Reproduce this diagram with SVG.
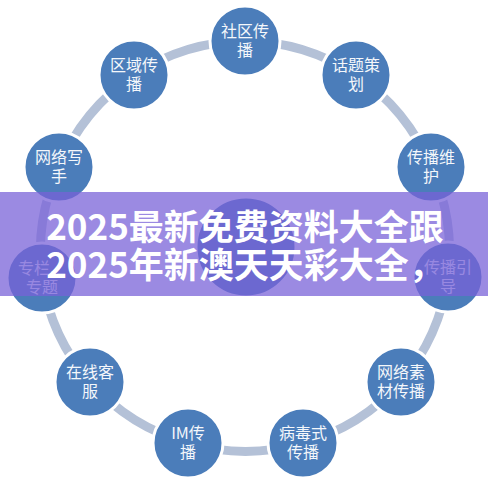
<svg xmlns="http://www.w3.org/2000/svg" width="488" height="489" viewBox="0 0 488 489">
<style>
.bg{fill:#ffffff}
.conn{fill:none;stroke:#b4c1d7;stroke-width:9}
.node circle{fill:#4b7dba;stroke:#ffffff;stroke-width:3}
.node text{font-family:"Noto Sans CJK SC","Noto Sans",sans-serif;font-size:16px;fill:#f4f7fb;text-anchor:middle}
.banner{fill:rgb(120,97,216);fill-opacity:0.74}
.title{font-family:"Noto Sans CJK SC","Noto Sans",sans-serif;font-size:35px;font-weight:700;fill:#ffffff;text-anchor:middle}
</style>
<rect class="bg" x="0" y="0" width="488" height="489"/>
<g id="connectors">
<path class="conn" d="M245,41 A205,205 0 0 1 356,75"/>
<path class="conn" d="M356,75 A205,205 0 0 1 431,167"/>
<path class="conn" d="M431,167 A205,205 0 0 1 448,277"/>
<path class="conn" d="M448,277 A205,205 0 0 1 401,382"/>
<path class="conn" d="M401,382 A205,205 0 0 1 303,443"/>
<path class="conn" d="M303,443 A205,205 0 0 1 188,443"/>
<path class="conn" d="M188,443 A205,205 0 0 1 90,382"/>
<path class="conn" d="M90,382 A205,205 0 0 1 42,278"/>
<path class="conn" d="M42,278 A205,205 0 0 1 59,167"/>
<path class="conn" d="M59,167 A205,205 0 0 1 134,75"/>
<path class="conn" d="M134,75 A205,205 0 0 1 245,41"/>
</g>
<g id="center" class="node"><circle cx="246" cy="247" r="50"/></g>
<g id="n1" class="node"><circle cx="245" cy="41" r="35"/><text x="245" y="37">社区传</text><text x="245" y="56">播</text></g>
<g id="n2" class="node"><circle cx="356" cy="75" r="35"/><text x="356" y="71">话题策</text><text x="356" y="90">划</text></g>
<g id="n3" class="node"><circle cx="431" cy="167" r="35"/><text x="431" y="163">传播维</text><text x="431" y="182">护</text></g>
<g id="n4" class="node"><circle cx="448" cy="277" r="35"/><text x="448" y="273">传播引</text><text x="448" y="292">导</text></g>
<g id="n5" class="node"><circle cx="401" cy="382" r="35"/><text x="401" y="378">网络素</text><text x="401" y="397">材传播</text></g>
<g id="n6" class="node"><circle cx="303" cy="443" r="35"/><text x="303" y="439">病毒式</text><text x="303" y="458">传播</text></g>
<g id="n7" class="node"><circle cx="188" cy="443" r="35"/><text x="188" y="439">IM传</text><text x="188" y="458">播</text></g>
<g id="n8" class="node"><circle cx="90" cy="382" r="35"/><text x="90" y="378">在线客</text><text x="90" y="397">服</text></g>
<g id="n9" class="node"><circle cx="42" cy="278" r="35"/><text x="42" y="274">专栏、</text><text x="42" y="293">专题</text></g>
<g id="n10" class="node"><circle cx="59" cy="167" r="35"/><text x="59" y="163">网络写</text><text x="59" y="182">手</text></g>
<g id="n11" class="node"><circle cx="134" cy="75" r="35"/><text x="134" y="71">区域传</text><text x="134" y="90">播</text></g>
<g id="banner">
<rect class="banner" x="0" y="192" width="488" height="104"/>
<text class="title" x="245" y="240">2025最新免费资料大全跟</text>
<text class="title" x="245" y="278">2025年新澳天天彩大全，</text>
</g>
</svg>
